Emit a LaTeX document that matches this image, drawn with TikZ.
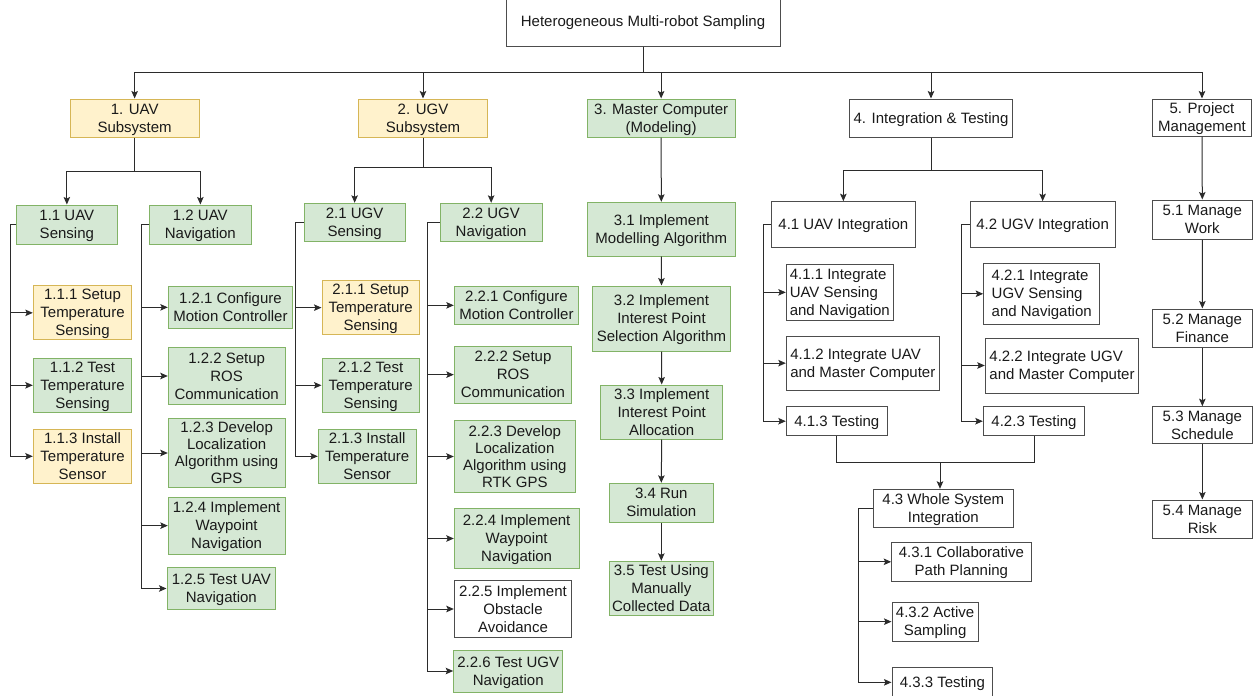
\documentclass[tikz,border=0pt]{standalone}
\usepackage{fontspec}
\setmainfont{Liberation Sans}
\usetikzlibrary{arrows.meta}
\definecolor{gfill}{HTML}{D5E8D4}
\definecolor{gline}{HTML}{82B366}
\definecolor{yfill}{HTML}{FFF2CC}
\definecolor{yline}{HTML}{D6B656}
\definecolor{wline}{HTML}{4D4D4D}
\definecolor{lncol}{HTML}{2B2B2B}
\definecolor{txt}{HTML}{1A1A1A}
\newcommand\bx[7]{%
  \pgfmathsetmacro\bxw{#5-#3}%
  \pgfmathsetmacro\bxh{#6-#4}%
  \node[#1, minimum width=\bxw pt, minimum height=\bxh pt] (#2) at ({(#3+#5)/2},{(#4+#6)/2}) {\rule{0pt}{14pt}#7\rule[-4pt]{0pt}{4pt}};}
\tikzset{
  nb/.style={draw, line width=1pt, inner sep=0pt, align=center, font=\fontsize{15}{18}\selectfont, text=txt},
  gb/.style={nb, fill=gfill, draw=gline},
  yb/.style={nb, fill=yfill, draw=yline},
  wb/.style={nb, fill=white, draw=wline},
  lnk/.style={draw=lncol, line width=1pt},
  arw/.style={lnk, -{Stealth[length=7.5pt,width=6.5pt,inset=1.5pt]}},
  four/.style={font=\fontsize{15}{17}\selectfont}
}
\begin{document}
\begin{tikzpicture}[x=1pt,y=-1pt]
\useasboundingbox (0,0) rectangle (1254,696);
% root and level 1
\bx{wb}{root}{506}{-2}{780}{46}{Heterogeneous Multi-robot Sampling}
\bx{yb}{n1}{70}{99}{199.3}{137}{1. UAV\\Subsystem}
\bx{yb}{n2}{358.3}{99}{487.7}{137}{2. UGV\\Subsystem}
\bx{gb}{n3}{587.3}{99}{735}{137}{3. Master Computer\\(Modeling)}
\bx{wb}{n4}{849.3}{99}{1012.7}{137}{4. Integration \& Testing}
\bx{wb}{n5}{1152.3}{99}{1251.7}{136}{5. Project\\Management}
% level 2
\bx{gb}{n11}{16}{205}{117.7}{244}{1.1 UAV\\Sensing}
\bx{gb}{n12}{149.7}{205}{251}{244}{1.2 UAV\\Navigation}
\bx{gb}{n21}{304}{203.3}{405.3}{241.7}{2.1 UGV\\Sensing}
\bx{gb}{n22}{440.3}{203.3}{542}{241.7}{2.2 UGV\\Navigation}
\bx{gb}{n31}{587.3}{202.3}{735.3}{256}{3.1 Implement\\Modelling Algorithm}
\bx{gb}{n32}{592.3}{286}{730.7}{351}{3.2 Implement\\Interest Point\\Selection Algorithm}
\bx{gb}{n33}{600.7}{386.7}{722.7}{437.3}{3.3 Implement\\Interest Point\\Allocation}
\bx{gb}{n34}{609.3}{483.3}{713.3}{522.3}{3.4 Run\\Simulation}
\bx{gb}{n35}{609.3}{561.3}{713.3}{615.3}{3.5 Test Using\\Manually\\Collected Data}
\bx{wb}{n41}{771}{201.7}{915.7}{247.7}{4.1 UAV Integration}
\bx{wb}{n42}{970.3}{201.7}{1115}{247.7}{4.2 UGV Integration}
\bx{wb}{n51}{1152.3}{200}{1252.3}{239.3}{5.1 Manage\\Work}
\bx{wb}{n52}{1152}{309}{1252.7}{347}{5.2 Manage\\Finance}
\bx{wb}{n53}{1152}{406.7}{1252.7}{443.7}{5.3 Manage\\Schedule}
\bx{wb}{n54}{1152}{500}{1252.7}{538}{5.4 Manage\\Risk}
% 1.1 children
\bx{yb}{n111}{33.3}{286}{131.7}{339.7}{1.1.1 Setup\\Temperature\\Sensing}
\bx{gb}{n112}{33.3}{358.3}{131.7}{412.3}{1.1.2 Test\\Temperature\\Sensing}
\bx{yb}{n113}{33.3}{429.3}{131.7}{483.3}{1.1.3 Install\\Temperature\\Sensor}
% 1.2 children
\bx{gb}{n121}{168.3}{286}{292.7}{328.7}{1.2.1 Configure\\Motion Controller}
\bx{gb}{n122}{168.3}{347.7}{285}{404.3}{1.2.2 Setup\\ROS\\Communication}
\bx{gb,four}{n123}{168.3}{418.7}{285}{487.3}{1.2.3 Develop\\Localization\\Algorithm using\\GPS}
\bx{gb}{n124}{168.3}{497.3}{285}{554}{1.2.4 Implement\\Waypoint\\Navigation}
\bx{gb}{n125}{167}{567.3}{275.7}{609.7}{1.2.5 Test UAV\\Navigation}
% 2.1 children
\bx{yb}{n211}{322}{281}{419.3}{334.3}{2.1.1 Setup\\Temperature\\Sensing}
\bx{gb}{n212}{322}{358.3}{419.3}{412.3}{2.1.2 Test\\Temperature\\Sensing}
\bx{gb}{n213}{318.3}{429.3}{416}{483.3}{2.1.3 Install\\Temperature\\Sensor}
% 2.2 children
\bx{gb}{n221}{454.3}{286}{578.7}{324.7}{2.2.1 Configure\\Motion Controller}
\bx{gb}{n222}{454.3}{346.3}{571.7}{403}{2.2.2 Setup\\ROS\\Communication}
\bx{gb,four}{n223}{454.3}{420.7}{575.3}{492.3}{2.2.3 Develop\\Localization\\Algorithm using\\RTK GPS}
\bx{gb}{n224}{454.3}{508.3}{579}{568.7}{2.2.4 Implement\\Waypoint\\Navigation}
\bx{wb}{n225}{454.3}{580.7}{571.7}{637.3}{2.2.5 Implement\\Obstacle\\Avoidance}
\bx{gb}{n226}{453.7}{650}{562.7}{692}{2.2.6 Test UGV\\Navigation}
% 4.1 children
\bx{wb,align=left}{n411}{786.3}{264.7}{893.3}{320}{4.1.1 Integrate\\UAV Sensing\\and Navigation}
\bx{wb,align=left}{n412}{786.3}{336}{939.3}{390.3}{4.1.2 Integrate UAV\\and Master Computer}
\bx{wb}{n413}{786.3}{406.7}{887.3}{435.7}{4.1.3 Testing}
% 4.2 children
\bx{wb,align=left}{n421}{983.7}{263.3}{1099.7}{324.3}{4.2.1 Integrate\\UGV Sensing\\and Navigation}
\bx{wb,align=left}{n422}{985.3}{338}{1138.7}{393}{4.2.2 Integrate UGV\\and Master Computer}
\bx{wb}{n423}{983.3}{406.7}{1084.7}{435.7}{4.2.3 Testing}
% 4.3
\bx{wb}{n43}{873.3}{489.3}{1013.3}{527.3}{4.3 Whole System\\Integration}
\bx{wb}{n431}{891.7}{542.3}{1031}{581.3}{4.3.1 Collaborative\\Path Planning}
\bx{wb}{n432}{892}{602.3}{978.3}{641}{4.3.2 Active\\Sampling}
\bx{wb}{n433}{892}{667.7}{992.7}{697}{4.3.3 Testing}
% connectors: top bus
\coordinate (bus) at (643,72);
\draw[lnk] (root.south) -- (bus);
\foreach \n in {n1,n2,n3,n4,n5} \draw[arw] (bus) -| (\n.north);
% level 1 to level 2
\draw[arw] (n1.south) -- ++(0,34.3) -| (n11.north);
\draw[arw] (n1.south) -- ++(0,34.3) -| (n12.north);
\draw[arw] (n2.south) -- ++(0,29.7) -| (n21.north);
\draw[arw] (n2.south) -- ++(0,29.7) -| (n22.north);
\draw[arw] (n4.south) -- ++(0,32.7) -| (n41.north);
\draw[arw] (n4.south) -- ++(0,32.7) -| (n42.north);
% chains
\draw[arw] (n3.south) -- (n31.north);
\draw[arw] (n31.south) -- (n32.north);
\draw[arw] (n32.south) -- (n33.north);
\draw[arw] (n33.south) -- (n34.north);
\draw[arw] (n34.south) -- (n35.north);
\draw[arw] (n5.south) -- (n51.north);
\draw[arw] (n51.south) -- (n52.north);
\draw[arw] (n52.south) -- (n53.north);
\draw[arw] (n53.south) -- (n54.north);
% side branches
\foreach \c in {n111,n112,n113} \draw[arw] (n11.west) -- ++(-5,0) |- (\c.west);
\foreach \c in {n121,n122,n123,n124,n125} \draw[arw] (n12.west) -- ++(-8,0) |- (\c.west);
\foreach \c in {n211,n212,n213} \draw[arw] (n21.west) -- ++(-8,0) |- (\c.west);
\foreach \c in {n221,n222,n223,n224,n225,n226} \draw[arw] (n22.west) -- ++(-12.3,0) |- (\c.west);
\foreach \c in {n411,n412,n413} \draw[arw] (n41.west) -- ++(-7.5,0) |- (\c.west);
\foreach \c in {n421,n422,n423} \draw[arw] (n42.west) -- ++(-8.6,0) |- (\c.west);
\foreach \c in {n431,n432,n433} \draw[arw] (n43.west) -- ++(-14.6,0) |- (\c.west);
% testing merge
\draw[lnk] (n413.south) -- ++(0,26.3) -| (n423.south);
\coordinate (j43) at (940,462);
\draw[arw] (j43) -- (j43 |- n43.north);
\end{tikzpicture}
\end{document}
